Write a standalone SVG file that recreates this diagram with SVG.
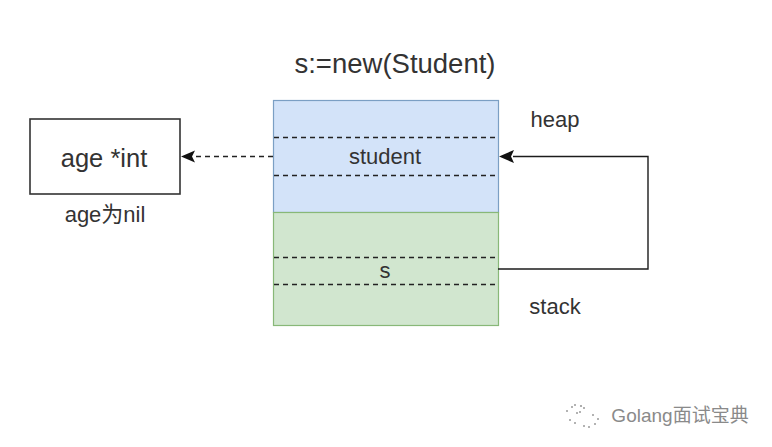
<svg xmlns="http://www.w3.org/2000/svg" width="772" height="447" viewBox="0 0 772 447">
<style>
text{font-family:"Liberation Sans","Noto Sans CJK SC",sans-serif;fill:#333;text-anchor:middle}
.dash{stroke:#222;stroke-width:1.3;stroke-dasharray:5 4;fill:none}
.link{stroke:#1c1c1c;stroke-width:1.4;fill:none}
</style>
<rect width="772" height="447" fill="#fff"/>
<g id="title"><text x="395" y="73" font-size="27.500">s:=new(Student)</text></g>
<g id="heap">
<rect x="273.500" y="100.500" width="225" height="112" fill="#d3e3f9" stroke="#7b9fc4" stroke-width="1.2"/>
<path class="dash" d="M274 137.500H497M274 175.500H497"/>
<text x="385" y="164" font-size="22">student</text>
</g>
<g id="stack">
<rect x="273.500" y="212.500" width="225" height="113" fill="#d1e6cf" stroke="#88b878" stroke-width="1.2"/>
<path class="dash" d="M274 257.500H497M274 284.500H497"/>
<text x="385" y="278" font-size="22">s</text>
</g>
<g id="age">
<rect x="30" y="119" width="150" height="75" fill="#fff" stroke="#333" stroke-width="1.6"/>
<text x="104" y="167" font-size="25.500">age *int</text>
</g>
<g id="labels">
<text x="105" y="222" font-size="22">age为nil</text>
<text x="555" y="127" font-size="22">heap</text>
<text x="555" y="314" font-size="22">stack</text>
</g>
<g id="connectors">
<path class="dash" d="M273 156.500H195"/>
<path d="M181 156.500L195 150.500L192 156.500L195 162.500Z" fill="#111"/>
<path class="link" d="M498 269H648V156.500H513"/>
<path d="M499 156.500L514 150L511 156.500L514 163Z" fill="#111"/>
</g>
<g id="watermark">
<g fill="#9a9a9a">
<circle cx="572" cy="407" r="1"/><circle cx="575" cy="405" r="1"/><circle cx="581" cy="406" r="1.100"/><circle cx="584" cy="408" r="1"/><circle cx="580" cy="412" r="1"/><circle cx="577" cy="413" r="1"/><circle cx="567" cy="411" r="1"/><circle cx="570" cy="420" r="1"/><circle cx="575" cy="423" r="1"/><circle cx="584" cy="426" r="1"/><circle cx="589" cy="427" r="1"/><circle cx="595" cy="424" r="1"/><circle cx="598" cy="419" r="1"/><circle cx="593" cy="415" r="1"/>
</g>
<text x="680" y="422" font-size="19" style="fill:#8a8a8a">Golang面试宝典</text>
</g>
</svg>
